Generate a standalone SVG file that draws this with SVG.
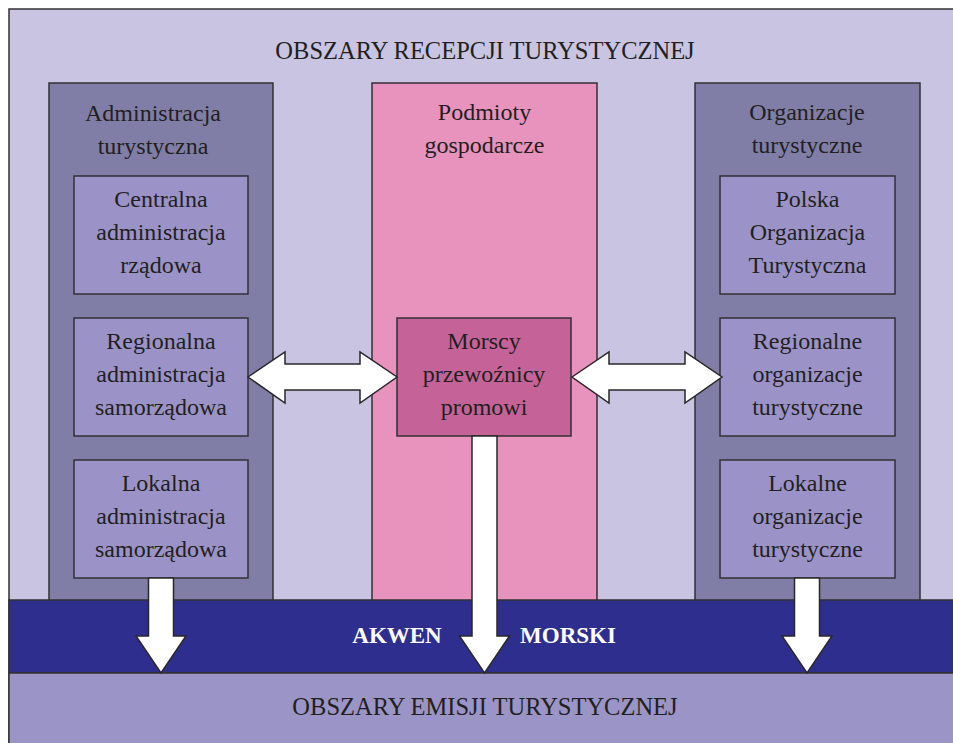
<svg xmlns="http://www.w3.org/2000/svg" width="953" height="743" viewBox="0 0 953 743">
<style>
.s{stroke:#333035;stroke-width:1.5}
.t{font-family:"Liberation Serif","Times New Roman",serif;font-size:24px;fill:#231f20;text-anchor:middle}
.big{font-size:24.5px}
.w{font-family:"Liberation Serif","Times New Roman",serif;font-size:23px;font-weight:bold;fill:#ffffff;text-anchor:middle}
.col{fill:#807ea6}
.box{fill:#9b93c8}
.arr{fill:#ffffff;stroke:#2a272a;stroke-width:1.5;stroke-linejoin:miter}
</style>
<rect width="953" height="743" fill="#ffffff"/>
<g id="reception">
<rect x="9" y="9" width="960" height="760" fill="#c8c4e2" class="s"/>
<text class="t big" x="485" y="59">OBSZARY RECEPCJI TURYSTYCZNEJ</text>
</g>
<g id="admin">
<rect x="49" y="83" width="224" height="530" class="col s"/>
<text class="t" x="153" y="121">Administracja</text>
<text class="t" x="153" y="154">turystyczna</text>
</g>
<g id="admin-central">
<rect x="74" y="176" width="174" height="118" class="box s"/>
<text class="t" x="161" y="207">Centralna</text>
<text class="t" x="161" y="240">administracja</text>
<text class="t" x="161" y="273">rządowa</text>
</g>
<g id="admin-regional">
<rect x="74" y="318" width="174" height="118" class="box s"/>
<text class="t" x="161" y="349">Regionalna</text>
<text class="t" x="161" y="382">administracja</text>
<text class="t" x="161" y="415">samorządowa</text>
</g>
<g id="admin-local">
<rect x="74" y="460" width="174" height="118" class="box s"/>
<text class="t" x="161" y="491">Lokalna</text>
<text class="t" x="161" y="524">administracja</text>
<text class="t" x="161" y="557">samorządowa</text>
</g>
<g id="business">
<rect x="372" y="83" width="225" height="530" fill="#e893bd" class="s"/>
<text class="t" x="484.5" y="120">Podmioty</text>
<text class="t" x="484.5" y="153">gospodarcze</text>
</g>
<g id="ferry">
<rect x="397" y="318" width="174" height="118" fill="#c56399" class="s"/>
<text class="t" x="484" y="349">Morscy</text>
<text class="t" x="484" y="382">przewoźnicy</text>
<text class="t" x="484" y="415">promowi</text>
</g>
<g id="org">
<rect x="695" y="83" width="225" height="530" class="col s"/>
<text class="t" x="807" y="120">Organizacje</text>
<text class="t" x="807" y="153">turystyczne</text>
</g>
<g id="org-polish">
<rect x="720" y="176" width="175" height="118" class="box s"/>
<text class="t" x="807.5" y="207">Polska</text>
<text class="t" x="807.5" y="240">Organizacja</text>
<text class="t" x="807.5" y="273">Turystyczna</text>
</g>
<g id="org-regional">
<rect x="720" y="318" width="175" height="118" class="box s"/>
<text class="t" x="807.5" y="349">Regionalne</text>
<text class="t" x="807.5" y="382">organizacje</text>
<text class="t" x="807.5" y="415">turystyczne</text>
</g>
<g id="org-local">
<rect x="720" y="460" width="175" height="118" class="box s"/>
<text class="t" x="807.5" y="491">Lokalne</text>
<text class="t" x="807.5" y="524">organizacje</text>
<text class="t" x="807.5" y="557">turystyczne</text>
</g>
<g id="sea">
<rect x="9" y="600" width="960" height="73" fill="#2e2e8f" class="s"/>
<text class="w" x="397" y="643">AKWEN</text>
<text class="w" x="568" y="643">MORSKI</text>
</g>
<g id="emission">
<rect x="9" y="673" width="960" height="90" fill="#9b94c6" class="s"/>
<text class="t big" x="485" y="715">OBSZARY EMISJI TURYSTYCZNEJ</text>
</g>
<g id="connectors">
<polygon class="arr" points="248,377 285,352 285,364 360,364 360,352 397,377 360,403 360,390 285,390 285,403"/>
<polygon class="arr" points="572,377 609,352 609,364 685,364 685,352 722,377 685,403 685,390 609,390 609,403"/>
<polygon class="arr" points="148.5,578 173.5,578 173.5,636 186,636 161,673 136,636 148.5,636"/>
<polygon class="arr" points="472,436 497,436 497,636 509.5,636 484.5,673 459.5,636 472,636"/>
<polygon class="arr" points="794.5,578 819.5,578 819.5,636 832,636 807,673 782,636 794.5,636"/>
</g>
</svg>
